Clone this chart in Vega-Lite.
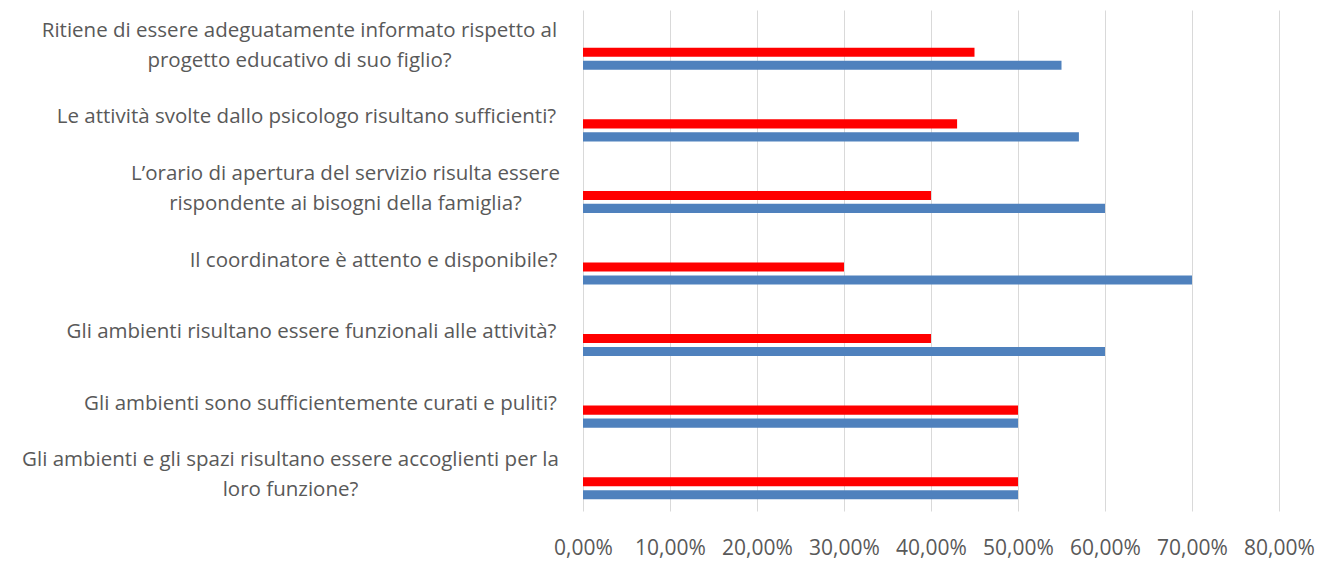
{
  "$schema": "https://vega.github.io/schema/vega-lite/v6.json",
  "width": 696,
  "height": 501,
  "autosize": {"type": "none"},
  "padding": {"left": 583, "top": 10, "right": 39, "bottom": 50},
  "background": "white",
  "config": {
    "view": {"stroke": null},
    "locale": {"number": {"decimal": ",", "thousands": ".", "grouping": [3], "currency": ["€", ""]}},
    "font": "Open Sans"
  },
  "data": {
    "values": [
      {"q": "Ritiene di essere adeguatamente informato rispetto al|progetto educativo di suo figlio?", "serie": "Serie 3", "value": 0.45},
      {"q": "Ritiene di essere adeguatamente informato rispetto al|progetto educativo di suo figlio?", "serie": "Serie 4", "value": 0.55},
      {"q": "Le attività svolte dallo psicologo risultano sufficienti?", "serie": "Serie 3", "value": 0.43},
      {"q": "Le attività svolte dallo psicologo risultano sufficienti?", "serie": "Serie 4", "value": 0.57},
      {"q": "L’orario di apertura del servizio risulta essere|rispondente ai bisogni della famiglia?", "serie": "Serie 3", "value": 0.40},
      {"q": "L’orario di apertura del servizio risulta essere|rispondente ai bisogni della famiglia?", "serie": "Serie 4", "value": 0.60},
      {"q": "Il coordinatore è attento e disponibile?", "serie": "Serie 3", "value": 0.30},
      {"q": "Il coordinatore è attento e disponibile?", "serie": "Serie 4", "value": 0.70},
      {"q": "Gli ambienti risultano essere funzionali alle attività?", "serie": "Serie 3", "value": 0.40},
      {"q": "Gli ambienti risultano essere funzionali alle attività?", "serie": "Serie 4", "value": 0.60},
      {"q": "Gli ambienti sono sufficientemente curati e puliti?", "serie": "Serie 3", "value": 0.50},
      {"q": "Gli ambienti sono sufficientemente curati e puliti?", "serie": "Serie 4", "value": 0.50},
      {"q": "Gli ambienti e gli spazi risultano essere accoglienti per la|loro funzione?", "serie": "Serie 3", "value": 0.50},
      {"q": "Gli ambienti e gli spazi risultano essere accoglienti per la|loro funzione?", "serie": "Serie 4", "value": 0.50}
    ]
  },
  "mark": {"type": "bar"},
  "encoding": {
    "y": {
      "field": "q",
      "type": "nominal",
      "sort": null,
      "scale": {"paddingInner": 0.274, "paddingOuter": 0.137},
      "axis": {
        "title": null,
        "domain": false,
        "ticks": false,
        "grid": false,
        "labelExpr": "split(datum.label, '|')",
        "labelAlign": "center",
        "labelBaseline": "middle",
        "labelFontSize": 20.5,
        "labelLineHeight": 30,
        "labelColor": "#595959",
        "labelFont": "Open Sans",
        "labelLimit": 700,
        "labelOffset": {"expr": "indexof(datum.value, '|') >= 0 ? -15 : 0"},
        "labelPadding": {"expr": "indexof(datum.value, 'Ritiene') == 0 ? 284 : indexof(datum.value, 'Le attivit') == 0 ? 277 : indexof(datum.value, 'L’orario') == 0 ? 238 : indexof(datum.value, 'Il coord') == 0 ? 210 : indexof(datum.value, 'Gli ambienti risultano') == 0 ? 272 : indexof(datum.value, 'Gli ambienti sono') == 0 ? 263 : 293"}
      }
    },
    "yOffset": {
      "field": "serie",
      "type": "nominal",
      "scale": {"domain": ["Serie 1", "Serie 2", "Serie 3", "Serie 4"], "paddingInner": 0.3, "paddingOuter": 0.15}
    },
    "x": {
      "field": "value",
      "type": "quantitative",
      "scale": {"domain": [0, 0.8], "nice": false},
      "axis": {
        "title": null,
        "format": ".2%",
        "values": [0, 0.1, 0.2, 0.3, 0.4, 0.5, 0.6, 0.7, 0.8],
        "domain": false,
        "ticks": false,
        "grid": true,
        "gridColor": "#d9d9d9",
        "gridWidth": 1,
        "labelPadding": 26,
        "labelFontSize": 21,
        "labelColor": "#595959",
        "labelFont": "Open Sans",
        "labelFlush": false
      }
    },
    "color": {
      "field": "serie",
      "type": "nominal",
      "scale": {"domain": ["Serie 1", "Serie 2", "Serie 3", "Serie 4"], "range": ["#9bbb59", "#c0504d", "#ff0000", "#4f81bd"]},
      "legend": null
    }
  }
}
